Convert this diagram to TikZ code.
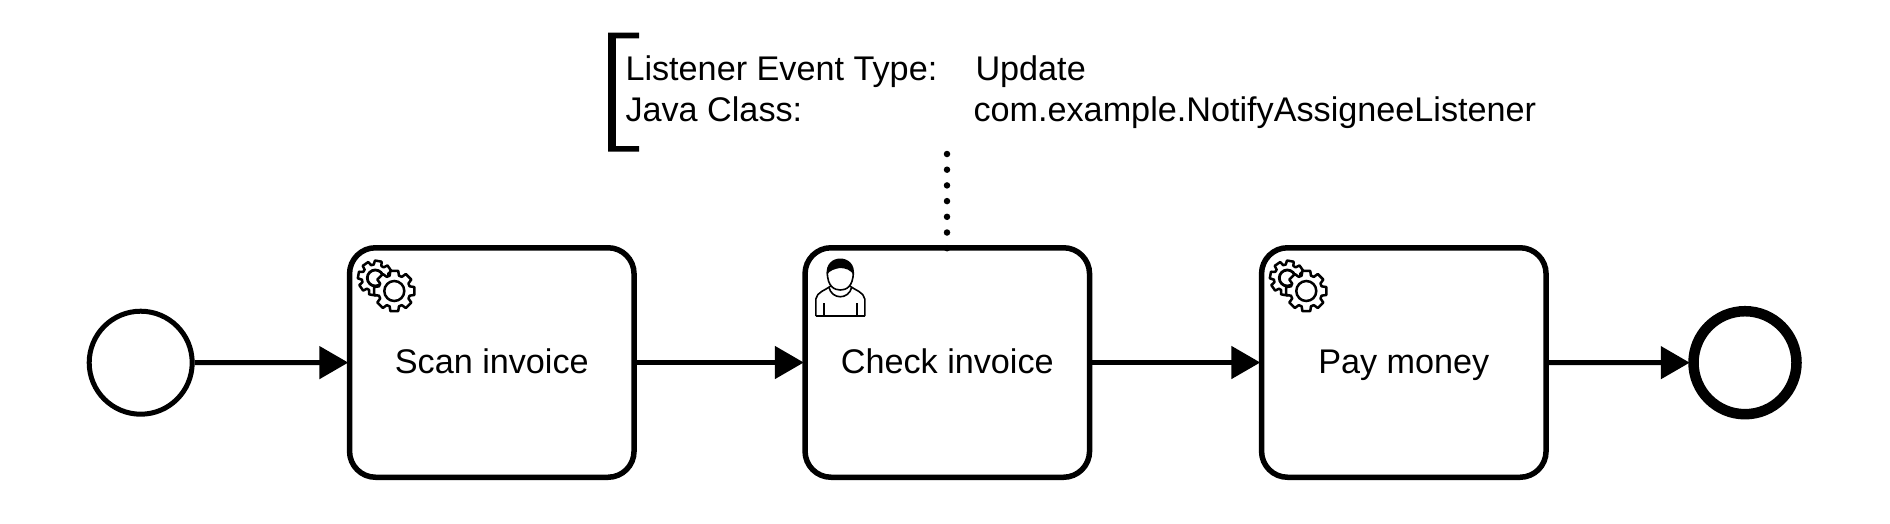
\documentclass[tikz,border=0pt]{standalone}
\usepackage{fontspec}
\setmainfont{Liberation Sans}
\usetikzlibrary{arrows.meta,calc}
\tikzset{
  x=1pt,y=-1pt,
  txt/.style={font=\fontsize{34.2}{40}\selectfont,inner sep=0pt,outer sep=0pt},
  task/.style={draw=black,line width=5.5pt,rounded corners=26pt,minimum width=284.5pt,minimum height=229.5pt,fill=white,align=center,font=\fontsize{34.2}{40}\selectfont,inner sep=0pt,text height=26pt,text depth=5pt},
  startev/.style={circle,draw=black,line width=5pt,minimum size=103pt,inner sep=0pt,fill=white},
  endev/.style={circle,draw=black,line width=10.5pt,minimum size=103pt,inner sep=0pt,fill=white},
  flow/.style={line width=5pt,shorten >=-1.5pt,-{Triangle[length=29pt,width=32pt]}},
  assoc/.style={line width=6.5pt,line cap=round,dash pattern=on 0pt off 15.7pt},
  gearline/.style={line width=2.5pt,draw=black,fill=white,line join=round},
  gearicon/.pic={
    \draw[gearline] ($(28.5,33)+(-7:13.5)$) foreach \i in {0,...,7}{
        -- ($(28.5,33)+({\i*45+10-17}:13.5)$) -- ($(28.5,33)+({\i*45+10-11}:17.5)$) -- ($(28.5,33)+({\i*45+10+11}:17.5)$) -- ($(28.5,33)+({\i*45+10+17}:13.5)$)
      } -- cycle;
    \draw[line width=2.8pt] (28.5,33) circle[radius=8];
    \draw[gearline] ($(47.5,46)+(-17:16)$) foreach \i in {0,...,7}{
        -- ($(47.5,46)+({\i*45-17}:16)$) -- ($(47.5,46)+({\i*45-11}:20.5)$) -- ($(47.5,46)+({\i*45+11}:20.5)$) -- ($(47.5,46)+({\i*45+17}:16)$)
      } -- cycle;
    \draw[line width=2.5pt] (47.5,46) circle[radius=10];
  },
  personicon/.pic={
    \draw[line width=1.6pt] (25,27) .. controls (25,42) and (32.5,45) .. (38,45) .. controls (43.5,45) and (51,42) .. (51,27);
    \fill[black] (24.5,30) .. controls (21.5,8) and (54.5,8) .. (51.5,30) .. controls (48.5,25) and (43.5,23) .. (37.5,23) .. controls (32.5,24) and (27.5,25) .. (24.5,30) -- cycle;
    \draw[line width=1.6pt] (13.5,71) -- (13.5,54) .. controls (14.5,47) and (23.5,45) .. (28.5,41);
    \draw[line width=1.6pt] (62.5,71) -- (62.5,54) .. controls (61.5,47) and (52.5,45) .. (47.5,41);
    \draw[line width=1.6pt] (13.5,71) -- (62.5,71);
    \draw[line width=1.6pt] (26.5,42) .. controls (29.5,55) and (46.5,55) .. (49.5,42);
    \draw[line width=1.6pt] (21.5,58) -- (21.5,71) (54.5,58) -- (54.5,71);
  },
}
\begin{document}
\begin{tikzpicture}
\useasboundingbox (0,0) rectangle (1890,523);
\node[startev] (start) at (140.7,362.7) {};
\node[task] (t1) at (491.8,362.5) {Scan invoice};
\node[task] (t2) at (947.3,362.5) {Check invoice};
\node[task] (t3) at (1403.8,362.5) {Pay money};
\node[endev] (end) at (1745,362.7) {};
\draw[flow] (start) -- (t1);
\draw[flow] (t1) -- (t2);
\draw[flow] (t2) -- (t3);
\draw[flow] (t3) -- (end);
\pic at (t1.north west) {gearicon};
\pic at (t3.north west) {gearicon};
\pic at (t2.north west) {personicon};
% annotation bracket
\fill[black] (639,32.7) -- (608.2,32.7) -- (608.2,151.7) -- (639,151.7) -- (639,146) -- (615.8,146) -- (615.8,38.4) -- (639,38.4) -- cycle;
\node[txt,anchor=base west] (l1) at (625.5,80) {Listener Event Type:};
\node[txt,anchor=base west] (l2) at (625.5,121) {Java Class:};
\node[txt,anchor=base west] (v1) at (975.5,80) {Update};
\node[txt,anchor=base west] (v2) at (973.5,121) {com.example.NotifyAssigneeListener};
\coordinate (annot) at (947,154);
\draw[assoc,shorten >=-4pt] (annot) -- (annot |- t2.north);
\end{tikzpicture}
\end{document}
